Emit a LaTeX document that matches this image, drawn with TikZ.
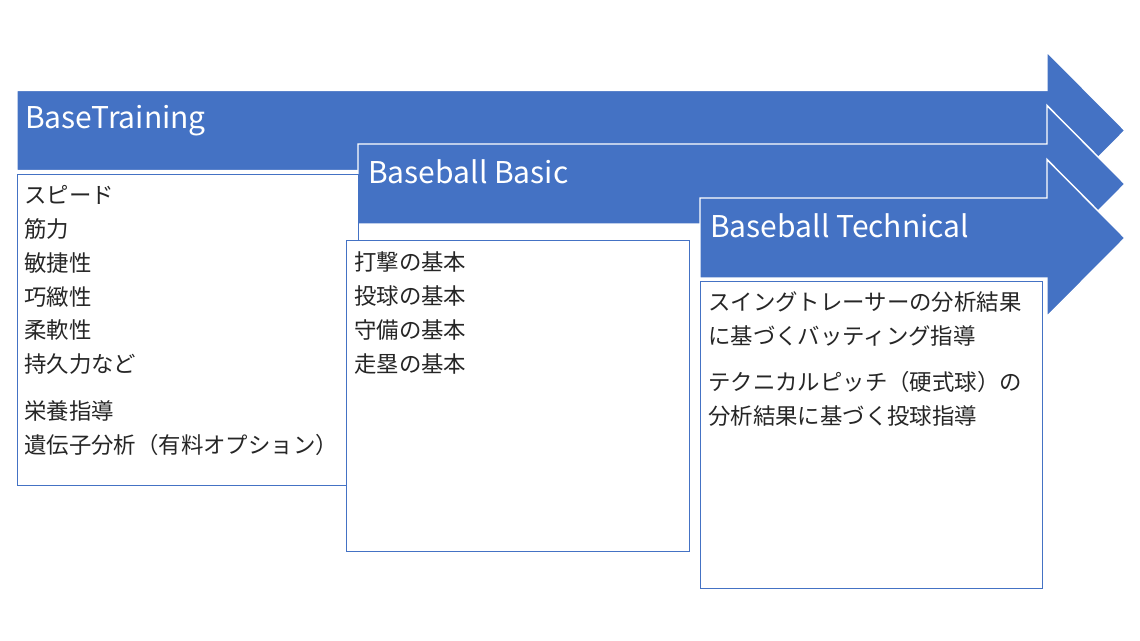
\documentclass[tikz,border=0pt]{standalone}
\usepackage{fontspec}
\newfontfamily\jp{Noto Sans CJK JP}
\usetikzlibrary{positioning,calc}
\definecolor{stageblue}{HTML}{4472C4}
\definecolor{itemgray}{HTML}{262626}
\begin{document}
\begin{tikzpicture}
[x=0.75pt,y=-0.75pt,
stagearrow/.style={fill=stageblue,draw=white,line width=1.1pt,line join=miter},
panel/.style={draw=stageblue,fill=white,line width=0.7pt},
stagetitle/.style={anchor=base west,inner sep=0pt,text=white,
font=\jp\fontsize{22.5pt}{22.5pt}\selectfont},
itemlist/.style={anchor=base west,inner sep=0pt,text=itemgray,
font=\jp\fontsize{16.8pt}{25.3pt}\selectfont}]
\useasboundingbox (0,0) rectangle (1140,641);
%%%%%%%%%%
%%%%% arrows
\draw[stagearrow] (17,90.5) -- (1047,90.5) -- (1047,52) -- (1125,130.5)
-- (1047,209) -- (1047,170.5) -- (17,170.5) -- cycle;
\draw[stagearrow] (358,144) -- (1047,144) -- (1047,105.5) -- (1125,184)
-- (1047,262.5) -- (1047,224) -- (358,224) -- cycle;
\draw[stagearrow] (700,198) -- (1047,198) -- (1047,159.5) -- (1125,238)
-- (1047,316.5) -- (1047,278) -- (700,278) -- cycle;
%% titles
\node (base) [stagetitle] at (25,129) {BaseTraining};
\node (basic) [stagetitle] at (368,184) {Baseball Basic};
\node (tech) [stagetitle] at (710,238) {Baseball Technical};
%%%%%%%%%%
%%%%% panels
\begin{scope}
\draw[panel] (17,174) rectangle (358,485);
\node (baselist) [itemlist] at (24,204) {
\begin{tabular}[t]{@{}l@{}}
スピード\\
筋力\\
敏捷性\\
巧緻性\\
柔軟性\\
持久力など\\[10pt]
栄養指導\\
遺伝子分析（有料オプション）
\end{tabular}
};
\end{scope}
%%
\begin{scope}
\draw[panel] (346,240) rectangle (689,551);
\node (basiclist) [itemlist] at (354,271) {
\begin{tabular}[t]{@{}l@{}}
打撃の基本\\
投球の基本\\
守備の基本\\
走塁の基本
\end{tabular}
};
\end{scope}
%%
\begin{scope}
\draw[panel] (700,281) rectangle (1042,588);
\node (techlist) [itemlist] at (708,311) {
\begin{tabular}[t]{@{}l@{}}
スイングトレーサーの分析結果\\
に基づくバッティング指導\\[9pt]
テクニカルピッチ（硬式球）の\\
分析結果に基づく投球指導
\end{tabular}
};
\end{scope}
\end{tikzpicture}
\end{document}
